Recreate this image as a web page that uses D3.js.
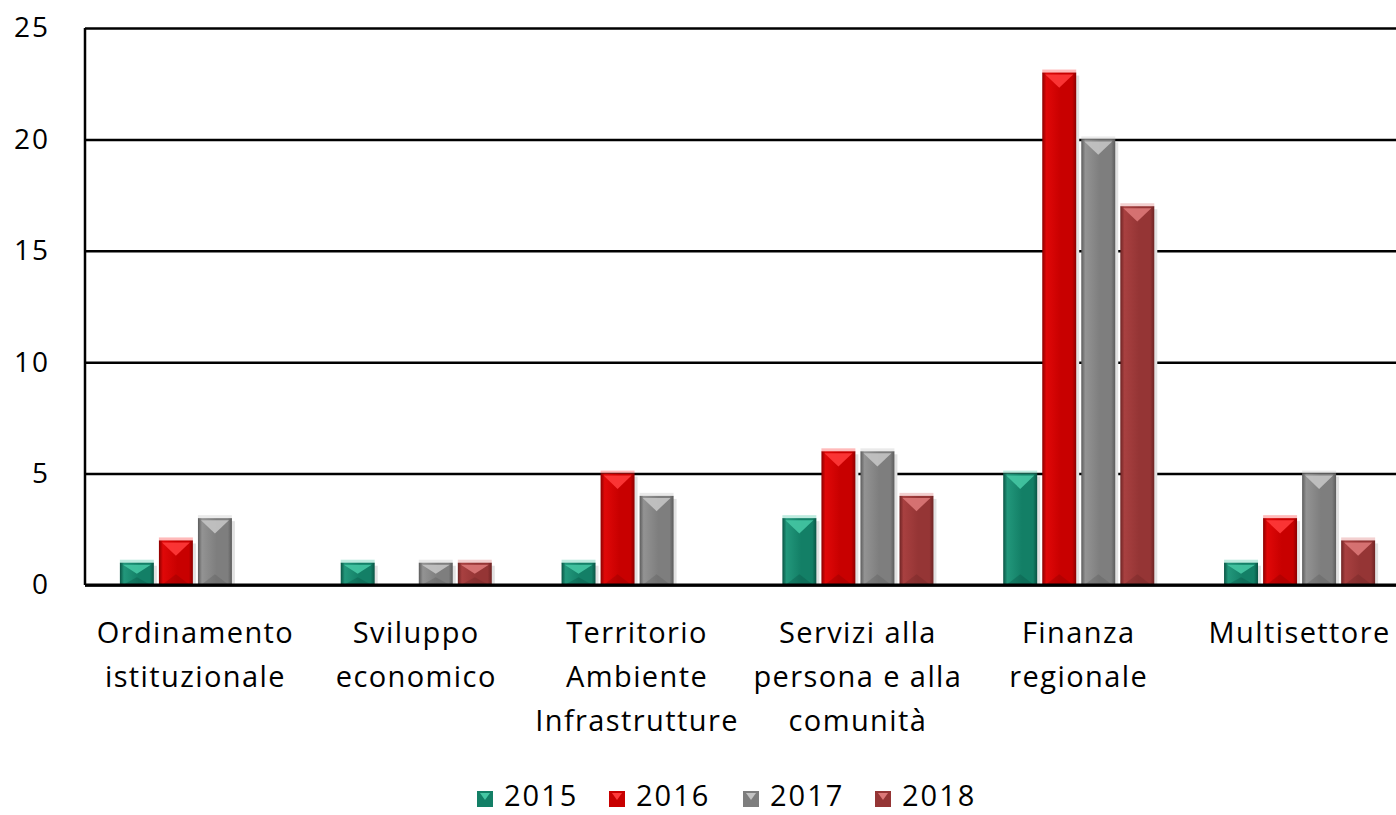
<!DOCTYPE html>
<html>
<head>
<meta charset="utf-8">
<script src="https://cdn.jsdelivr.net/npm/d3@7"></script>
<style>
  body { margin: 0; background: #fff; }
  text { font-family: "Open Sans", Lato, sans-serif; fill: #000; }
</style>
</head>
<body>
<div id="chart"></div>
<script>
// Data
const categories = [
  ["Ordinamento", "istituzionale"],
  ["Sviluppo", "economico"],
  ["Territorio", "Ambiente", "Infrastrutture"],
  ["Servizi alla", "persona e alla", "comunità"],
  ["Finanza", "regionale"],
  ["Multisettore"]
];
const years = ["2015", "2016", "2017", "2018"];
const v2015 = [1, 1, 1, 3, 5, 1];
const v2016 = [2, 0, 5, 6, 23, 3];
const v2017 = [3, 1, 4, 6, 20, 5];
const v2018 = [0, 1, 0, 4, 17, 2];
const yTicks = [0, 5, 10, 15, 20, 25];

const series = [v2015, v2016, v2017, v2018];
const palette = {
  "2015": {dark: "#0a5444", mid: "#137f66", light: "#22977b", hi: "#45c6a3"},
  "2016": {dark: "#8c0000", mid: "#c80000", light: "#e00808", hi: "#ff3a3a"},
  "2017": {dark: "#5c5c5c", mid: "#7e7e7e", light: "#939393", hi: "#c4c4c4"},
  "2018": {dark: "#6e2424", mid: "#953535", light: "#a84040", hi: "#dc7878"}
};

const W = 1396, H = 815;
const margin = {top: 28, left: 85, bottom: 230};
const plotRight = 1410;
const svg = d3.select("#chart").append("svg")
  .attr("width", W).attr("height", H);

const x0 = d3.scaleBand()
  .domain(d3.range(categories.length))
  .range([margin.left, plotRight])
  .paddingInner(0.27).paddingOuter(0.135);
const x1 = d3.scaleBand()
  .domain(years)
  .range([0, x0.bandwidth()])
  .padding(0.13);
const y = d3.scaleLinear().domain([0, 25]).range([H - margin.bottom, margin.top]);

// gradients
const defs = svg.append("defs");
years.forEach(yr => {
  const c = palette[yr];
  const g = defs.append("linearGradient").attr("id", "g" + yr)
    .attr("x1", "0%").attr("x2", "100%");
  g.append("stop").attr("offset", "0%").attr("stop-color", c.dark);
  g.append("stop").attr("offset", "12%").attr("stop-color", c.light);
  g.append("stop").attr("offset", "55%").attr("stop-color", c.mid);
  g.append("stop").attr("offset", "88%").attr("stop-color", c.mid);
  g.append("stop").attr("offset", "100%").attr("stop-color", c.dark);
});

// gridlines
svg.append("g")
  .attr("transform", `translate(${margin.left},0)`)
  .call(d3.axisLeft(y).tickValues(yTicks).tickSize(-(plotRight - margin.left)).tickPadding(35))
  .call(g => g.select(".domain").remove())
  .call(g => g.selectAll(".tick line").attr("stroke", "#000").attr("stroke-width", 2.5))
  .call(g => g.selectAll(".tick text").attr("font-size", 28).attr("fill", "#000")
    .attr("letter-spacing", 2).attr("font-family", "'Open Sans', sans-serif"));

// bars
const groups = svg.append("g").selectAll("g")
  .data(categories)
  .join("g")
  .attr("transform", (d, i) => `translate(${x0(i)},0)`);

groups.each(function(cat, i) {
  const g = d3.select(this);
  years.forEach((yr, k) => {
    const v = series[k][i];
    if (!v) return;
    const c = palette[yr];
    const bx = x1(yr), bw = x1.bandwidth();
    const top = y(v), bot = y(0);
    const bh = bot - top;
    // shadow
    g.append("rect").attr("x", bx + 3).attr("y", top + 3)
      .attr("width", bw).attr("height", bh - 3).attr("fill", "#e2e2e2");
    // pale cap
    g.append("rect").attr("x", bx).attr("y", top - 3)
      .attr("width", bw).attr("height", 4).attr("fill", c.hi).attr("opacity", 0.35);
    // body
    g.append("rect").attr("x", bx).attr("y", top)
      .attr("width", bw).attr("height", bh).attr("fill", `url(#g${yr})`);
    // top bevel triangle
    const th = Math.min(bw * 0.45, bh / 2);
    g.append("path")
      .attr("d", `M${bx + 3},${top + 2} L${bx + bw - 3},${top + 2} L${bx + bw / 2},${top + th} Z`)
      .attr("fill", c.hi).attr("opacity", 0.9);
    // bottom bevel
    g.append("path")
      .attr("d", `M${bx + 3},${bot} L${bx + bw - 3},${bot} L${bx + bw / 2},${bot - th * 0.7} Z`)
      .attr("fill", c.dark).attr("opacity", 0.35);
  });
});

// axes lines
svg.append("line").attr("x1", margin.left).attr("x2", margin.left)
  .attr("y1", y(25)).attr("y2", y(0)).attr("stroke", "#000").attr("stroke-width", 2.5);
svg.append("line").attr("x1", margin.left).attr("x2", plotRight)
  .attr("y1", y(0)).attr("y2", y(0)).attr("stroke", "#000").attr("stroke-width", 3);

// category labels
const lab = svg.append("g").selectAll("text")
  .data(categories)
  .join("text")
  .attr("text-anchor", "middle")
  .attr("font-size", 29)
  .attr("letter-spacing", 1.4)
  .attr("x", (d, i) => x0(i) + x0.bandwidth() / 2)
  .attr("y", 643);
lab.selectAll("tspan")
  .data(d => d)
  .join("tspan")
  .attr("x", function() { return this.parentNode.getAttribute("x"); })
  .attr("dy", (d, j) => j === 0 ? 0 : 44)
  .text(d => d);

// legend
const legend = svg.append("g");
const legendX = [477, 609, 743, 875];
years.forEach((yr, k) => {
  const c = palette[yr];
  const lx = legendX[k];
  legend.append("rect").attr("x", lx).attr("y", 791).attr("width", 16).attr("height", 16)
    .attr("fill", c.mid);
  legend.append("path")
    .attr("d", `M${lx + 3},${793} L${lx + 13},${793} L${lx + 8},${800} Z`).attr("fill", c.hi);
  legend.append("text").attr("x", lx + 27).attr("y", 806).attr("font-size", 29)
    .attr("letter-spacing", 2).text(yr);
});
</script>
</body>
</html>
